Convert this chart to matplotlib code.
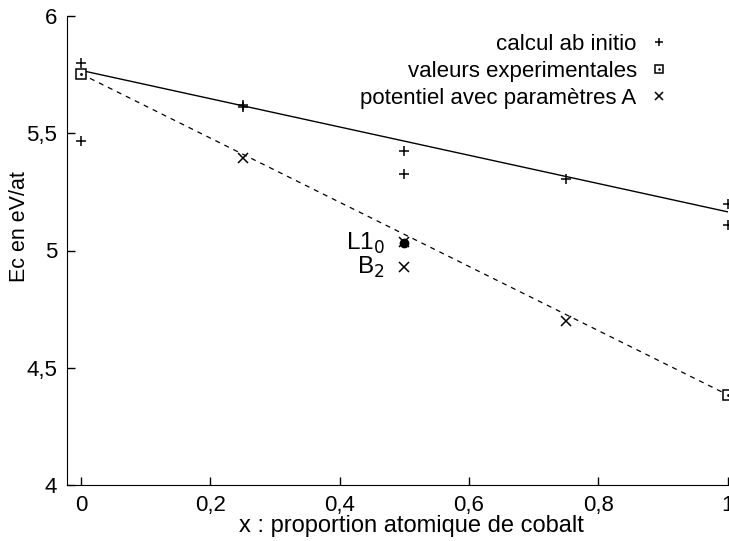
import matplotlib
matplotlib.use("Agg")
from matplotlib import pyplot as plt

plt.rcParams['font.family'] = ['Liberation Sans', 'DejaVu Sans']

# data
abinitio_x = [0, 0, 0.25, 0.25, 0.5, 0.5, 0.75, 1, 1]
abinitio_y = [5.80, 5.465, 5.62, 5.61, 5.425, 5.325, 5.305, 5.20, 5.11]
exp_x = [0, 1]
exp_y = [5.753, 4.385]
potA_x = [0.25, 0.5, 0.5, 0.75]
potA_y = [5.395, 5.035, 4.93, 4.70]
fit_x = [0, 1]
fit_y = [5.768, 5.165]
l10_x = [0.5]
l10_y = [5.03]
xticks = [0, 0.2, 0.4, 0.6, 0.8, 1]
xticklabels = ["0", "0,2", "0,4", "0,6", "0,8", "1"]
yticks = [4, 4.5, 5, 5.5, 6]
yticklabels = ["4", "4,5", "5", "5,5", "6"]

fontsize = 16
fig = plt.figure(figsize=(7.29, 5.41), dpi=100)
ax = fig.add_axes([67 / 729, 1 - 485 / 541, (727.5 - 67) / 729, (485 - 16) / 541])

ax.plot(fit_x, fit_y, color="black", lw=1.0)
ax.plot(exp_x, exp_y, color="black", lw=0.9, ls=(0, (4, 4)))

h1, = ax.plot(abinitio_x, abinitio_y, ls="none", marker="+", ms=6.5, mew=1.1,
              color="black", clip_on=False)
h2, = ax.plot(exp_x, exp_y, ls="none", marker="s", ms=7, mew=1.1,
              mfc="white", mec="black", clip_on=False)
h2b, = ax.plot(exp_x, exp_y, ls="none", marker=".", ms=2, color="black", clip_on=False)
h3, = ax.plot(potA_x, potA_y, ls="none", marker="x", ms=7.5, mew=1.1,
              color="black", clip_on=False)
ax.plot(l10_x, l10_y, ls="none", marker="o", ms=6, color="black")

# structure labels next to the x = 0.5 points
ax.text(0.47, 5.03, "L1$_0$", ha="right", va="center", fontsize=17.5)
ax.text(0.47, 4.93, "B$_2$", ha="right", va="center", fontsize=17.5)

ax.legend([h1, (h2, h2b), h3],
          ["calcul ab initio", "valeurs experimentales", "potentiel avec paramètres A"],
          loc="upper right", markerfirst=False, frameon=False, fontsize=fontsize,
          handlelength=1.0, handletextpad=0.5, labelspacing=0.27, markerscale=0.8,
          borderaxespad=0, borderpad=0, bbox_to_anchor=(0.913, 0.962))

ax.set_xlim(-0.0217, 1.0)
ax.set_ylim(4, 6)
ax.set_xticks(xticks)
ax.set_xticklabels(xticklabels)
ax.set_yticks(yticks)
ax.set_yticklabels(yticklabels)
ax.tick_params(direction="in", length=6, width=1, labelsize=fontsize, pad=7)
ax.spines["top"].set_visible(False)
ax.spines["right"].set_visible(False)

ax.set_xlabel("x : proportion atomique de cobalt", fontsize=17)
ax.xaxis.set_label_coords(0.521, -0.063)
ax.set_ylabel("Ec en eV/at", fontsize=15.5)
ax.yaxis.set_label_coords(-0.056, 0.55)

plt.savefig("out.png", dpi=100)
